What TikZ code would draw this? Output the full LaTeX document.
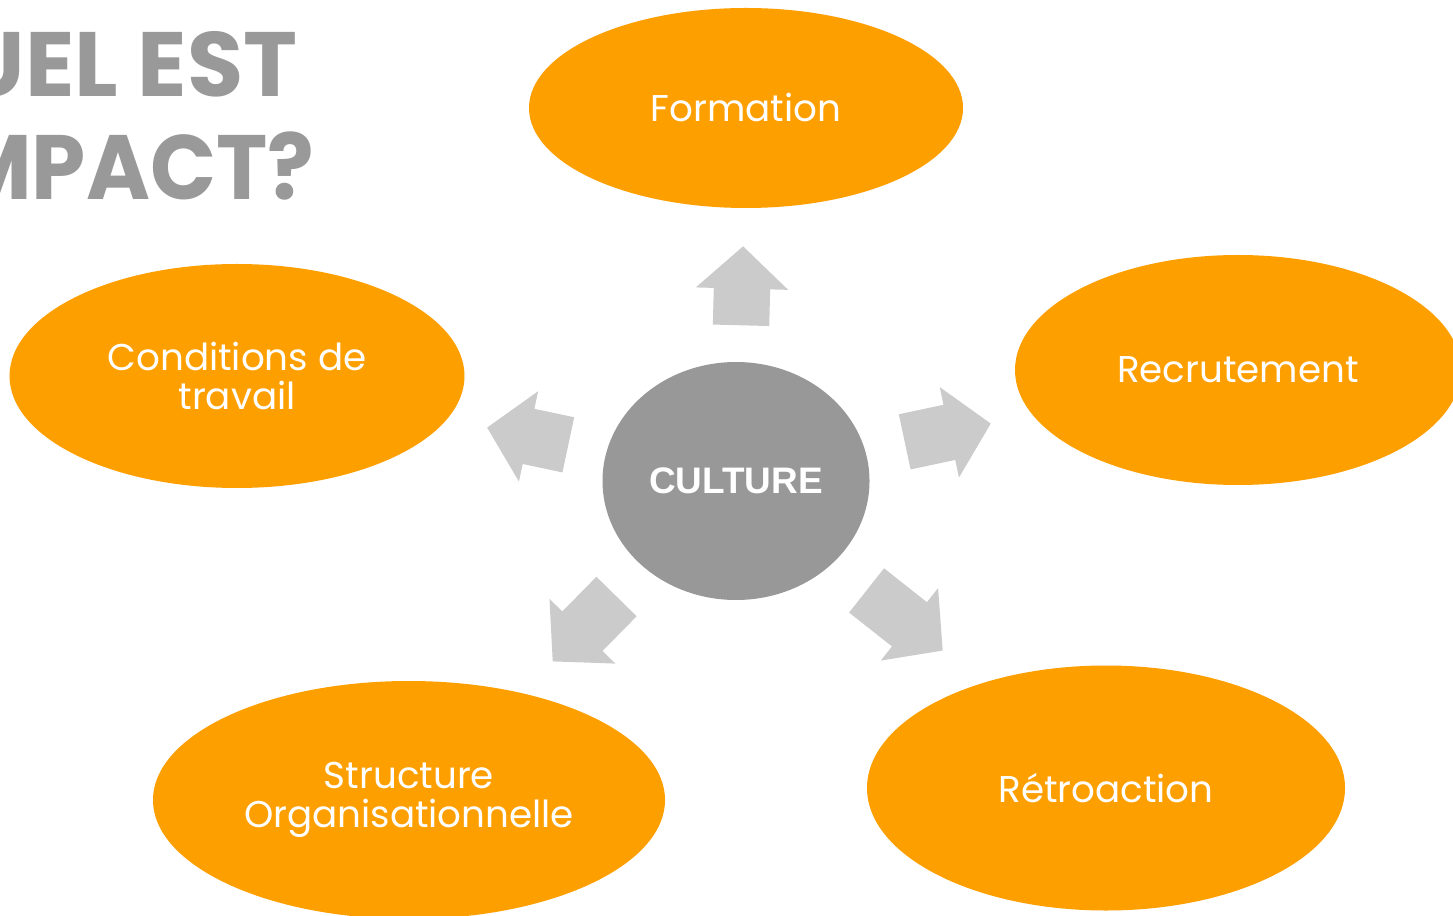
\documentclass[tikz,border=0pt]{standalone}
\usepackage{fontspec}
\setmainfont{Poppins}
\newfontfamily\hubfont{Liberation Sans}
\usepackage{tikz}
\usetikzlibrary{positioning,shapes,arrows.meta}

\definecolor{topicorange}{HTML}{FE9F00}
\definecolor{hubgrey}{HTML}{989898}
\definecolor{arrowgrey}{HTML}{CBCBCB}
\definecolor{titlegrey}{HTML}{999999}

\begin{document}
\begin{tikzpicture}[
		topic/.style={ellipse, fill=topicorange, text=white, inner sep=0pt, align=center, font=\fontsize{10.6}{11.3}\selectfont},
		hub/.style={ellipse, fill=hubgrey, text=white, inner sep=0pt, font=\hubfont\bfseries\fontsize{10.5}{12}\selectfont},
		blockarrow/.style={single arrow, fill=arrowgrey, inner xsep=0pt, inner ysep=0.275cm, minimum width=0.91cm, single arrow head extend=0.18cm, single arrow tip angle=95, anchor=tail},
		headline/.style={text=titlegrey, font=\bfseries\fontsize{26}{26}\selectfont, anchor=base east, inner sep=0pt}]
		\useasboundingbox (0,0) rectangle (14.53,9.15);
		\clip (0,0) rectangle (14.53,9.15);
		
		\node[headline] (t1) at (2.98,8.18) {UEL EST};
		\node[headline] (t2) at (3.15,7.15) {\scalebox{0.95}[1]{MPACT?}};
		
		\node[hub, minimum width=2.67cm, minimum height=2.38cm] (cult) at (7.36,4.34) {CULTURE};
		
		\node[topic, minimum width=4.34cm, minimum height=2.00cm] (form) at (7.46,8.07) {Formation};
		\node[topic, minimum width=4.46cm, minimum height=2.30cm] (recr) at (12.38,5.45) {Recrutement};
		\node[topic, minimum width=4.55cm, minimum height=2.24cm] (cond) at (2.37,5.39) {Conditions de\\travail};
		\node[topic, minimum width=5.12cm, minimum height=2.38cm] (struc) at (4.09,1.15) {Structure\\Organisationnelle};
		\node[topic, minimum width=4.78cm, minimum height=2.45cm] (retro) at (11.06,1.27) {Rétroaction};
		
		\node[blockarrow, rotate=88.5, minimum height=0.79cm] (a1) at (7.41,5.89) {};
		\node[blockarrow, rotate=12, minimum height=0.88cm] (a2) at (9.04,4.73) {};
		\node[blockarrow, rotate=168, minimum height=0.83cm] (a3) at (5.69,4.70) {};
		\node[blockarrow, rotate=225.5, minimum height=0.91cm] (a4) at (6.17,3.19) {};
		\node[blockarrow, rotate=-38.3, minimum height=0.97cm] (a5) at (8.66,3.25) {};
	\end{tikzpicture}
\end{document}
